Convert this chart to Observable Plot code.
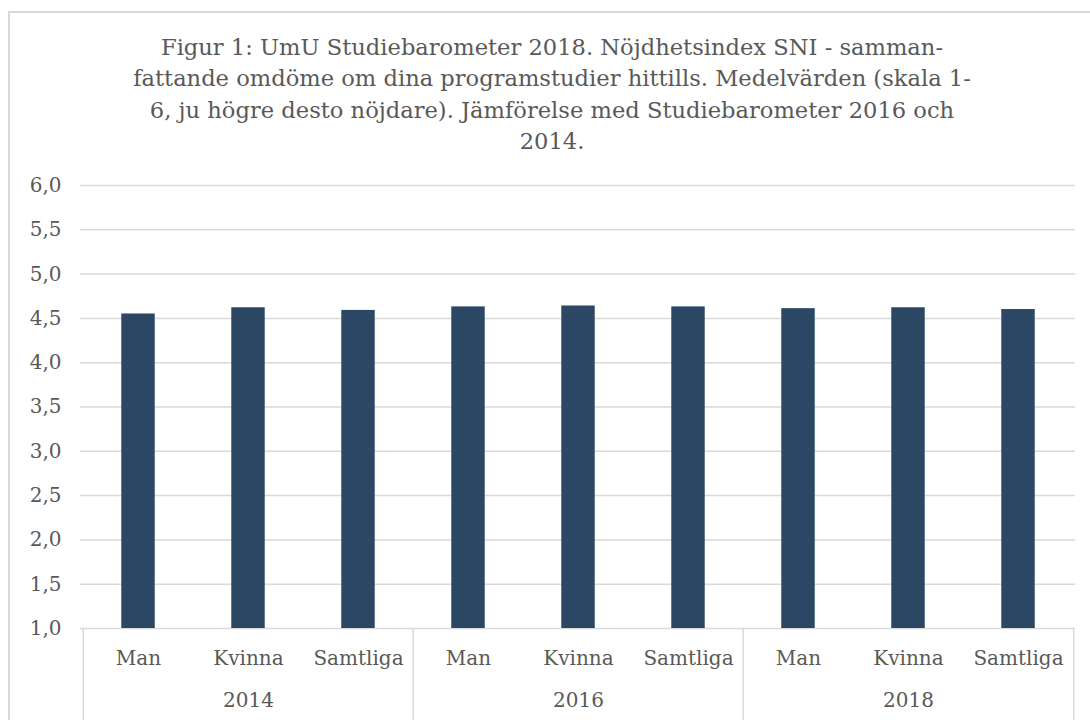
<!DOCTYPE html>
<html>
<head>
<meta charset="utf-8">
<script src="https://cdn.jsdelivr.net/npm/d3@7"></script>
<script src="https://cdn.jsdelivr.net/npm/@observablehq/plot@0.6"></script>
<style>
  html, body { margin: 0; padding: 0; background: #fff; width: 1090px; height: 720px; overflow: hidden; position: relative; }
  #frame { position: absolute; left: 8px; top: 11px; width: 1200px; height: 800px; border: 2px solid #d9d9d9; box-sizing: border-box; }
  #title { position: absolute; left: 14px; width: 1076px; top: 32px; text-align: center; font-family: "DejaVu Serif", serif; font-size: 22.6px; line-height: 31.3px; color: #595959; }
  #chart { position: absolute; left: 0; top: 160px; }
</style>
</head>
<body>
<div id="frame"></div>
<div id="title">Figur 1: UmU Studiebarometer 2018. Nöjdhetsindex SNI - samman-<br>fattande omdöme om dina programstudier hittills. Medelvärden (skala 1-<br>6, ju högre desto nöjdare). Jämförelse med Studiebarometer 2016 och<br>2014.</div>
<div id="chart"></div>
<script>
const years = ["2014", "2016", "2018"];
const groups = ["Man", "Kvinna", "Samtliga"];
const values2014 = [4.55, 4.62, 4.59];
const values2016 = [4.63, 4.64, 4.63];
const values2018 = [4.61, 4.62, 4.60];
const yTicks = [1.0, 1.5, 2.0, 2.5, 3.0, 3.5, 4.0, 4.5, 5.0, 5.5, 6.0];

const seriesByYear = {"2014": values2014, "2016": values2016, "2018": values2018};
const data = years.flatMap(yr => groups.map((g, i) => ({key: yr + " " + g, year: yr, group: g, value: seriesByYear[yr][i]})));
const domain = data.map(d => d.key);

const W = 1090, H = 560, mL = 80, mR = 15, mT = 25, mB = 92;
const step = (W - mL - mR) / domain.length;
const pxPerUnit = (H - mT - mB) / (6 - 1);
const yBottom = 1 - mB / pxPerUnit;
const barInset = (step - 34) / 2;
const fmt = d => d.toFixed(1).replace(".", ",");

const dividersLeft = years.map(yr => ({key: yr + " " + groups[0]}));
const dividerRight = [{key: years[years.length - 1] + " " + groups[groups.length - 1]}];
const yearLabels = years.map(yr => ({key: yr + " " + groups[1], year: yr}));

const chart = Plot.plot({
  width: W, height: H,
  marginLeft: mL, marginRight: mR, marginTop: mT, marginBottom: mB,
  style: {fontFamily: "DejaVu Serif, serif", fontSize: "20px", color: "#595959", background: "transparent"},
  x: {domain, padding: 0, axis: "bottom", tickSize: 0, tickPadding: 22, tickFormat: d => d.split(" ")[1], label: null},
  y: {domain: [1, 6], ticks: yTicks, tickFormat: fmt, tickSize: 0, tickPadding: 19, label: null},
  marks: [
    Plot.ruleY(yTicks, {y: d => d, stroke: "#d9d9d9", strokeWidth: 1.5}),
    Plot.barY(data, {x: "key", y1: 1, y2: "value", fill: "#2b4764", insetLeft: barInset, insetRight: barInset}),
    Plot.ruleX(dividersLeft, {x: "key", y1: 1, y2: yBottom, dx: -step / 2, stroke: "#d9d9d9", strokeWidth: 1.5}),
    Plot.ruleX(dividerRight, {x: "key", y1: 1, y2: yBottom, dx: step / 2, stroke: "#d9d9d9", strokeWidth: 1.5}),
    Plot.text(yearLabels, {x: "key", y: 1, text: "year", dy: 72, fill: "#595959", fontSize: 20})
  ]
});
document.getElementById("chart").appendChild(chart);
</script>
</body>
</html>
